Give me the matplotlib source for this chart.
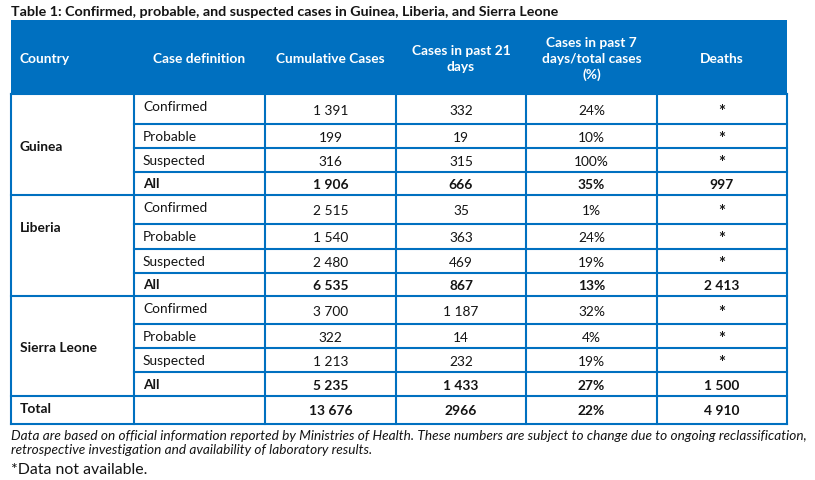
import matplotlib
matplotlib.use("Agg")
import matplotlib.pyplot as plt
from matplotlib.patches import Rectangle

# ---- data ----
title = "Table 1: Confirmed, probable, and suspected cases in Guinea, Liberia, and Sierra Leone"
headers = ["Country", "Case definition", "Cumulative Cases", "Cases in past 21\ndays",
           "Cases in past 7\ndays/total cases\n(%)", "Deaths"]
countries = ["Guinea", "Liberia", "Sierra Leone"]
case_defs = ["Confirmed", "Probable", "Suspected", "All"]
cumulative = [[1391, 199, 316, 1906], [2515, 1540, 2480, 6535], [3700, 322, 1213, 5235]]
past21 = [[332, 19, 315, 666], [35, 363, 469, 867], [1187, 14, 232, 1433]]
pct7 = [[24, 10, 100, 35], [1, 24, 19, 13], [32, 4, 19, 27]]
deaths = [[None, None, None, 997], [None, None, None, 2413], [None, None, None, 1500]]
total_label = "Total"
total_values = ["13 676", "2966", "22%", "4 910"]
footnote = ("Data are based on official information reported by Ministries of Health. These numbers are subject to change due to ongoing reclassification,\n"
            "retrospective investigation and availability of laboratory results.")
note2 = "*Data not available."

# ---- layout ----
W, H = 815, 481
col_x = [11, 134, 265, 396, 526, 657, 787]
row_y = [21, 95, 125, 149, 173, 196, 225, 250, 274, 297, 325, 349, 373, 397, 425]
country_label_y = [147, 228, 348]
BLUE = "#0070C0"
TXT = "#141414"
FONT = "Lato"
fs = 9.9
lw = 1.5

def fmt(n):
    if n is None:
        return "*"
    return f"{n:,}".replace(",", " ")

fig = plt.figure(figsize=(W / 100, H / 100), dpi=100)
ax = fig.add_axes([0, 0, 1, 1])
ax.set_xlim(0, W)
ax.set_ylim(H, 0)
ax.axis("off")

ax.text(11, 12, title, fontsize=10.3, fontweight="bold", family=FONT, color=TXT, va="center", ha="left")

# header
ax.add_patch(Rectangle((col_x[0], row_y[0]), col_x[-1] - col_x[0], row_y[1] - row_y[0],
                       facecolor=BLUE, edgecolor="none"))
hy = 59
for i, h in enumerate(headers):
    if i == 0:
        ax.text(20, hy, h, color="white", fontsize=fs, fontweight="bold", family=FONT,
                va="center", ha="left")
    else:
        cx = (col_x[i] + col_x[i + 1]) / 2
        ax.text(cx, hy, h, color="white", fontsize=fs, fontweight="bold", family=FONT,
                va="center", ha="center", linespacing=1.4)

# body lines
top_body = row_y[1]
bottom = row_y[-1]
for x in col_x:
    ax.plot([x, x], [top_body, bottom], color=BLUE, lw=lw, solid_capstyle="projecting")
for gi in range(len(countries)):
    for ri in range(len(case_defs)):
        k = 1 + gi * 4 + ri
        y0 = row_y[k]
        xstart = col_x[0] if ri == 0 else col_x[1]
        ax.plot([xstart, col_x[-1]], [y0, y0], color=BLUE, lw=lw, solid_capstyle="projecting")
ax.plot([col_x[0], col_x[-1]], [row_y[13], row_y[13]], color=BLUE, lw=lw, solid_capstyle="projecting")
ax.plot([col_x[0], col_x[-1]], [bottom, bottom], color=BLUE, lw=lw, solid_capstyle="projecting")

# body text
for gi, c in enumerate(countries):
    ax.text(20, country_label_y[gi], c, fontsize=fs, fontweight="bold", family=FONT,
            color=TXT, va="center", ha="left")
    for ri, d in enumerate(case_defs):
        k = 1 + gi * 4 + ri
        y0, y1 = row_y[k], row_y[k + 1]
        cy = (y0 + y1) / 2
        wt = "bold" if d == "All" else "normal"
        ly = y0 + 12 if ri == 0 else cy
        ax.text(143, ly, d, fontsize=fs, fontweight=wt, family=FONT, color=TXT,
                va="center", ha="left")
        vals = [fmt(cumulative[gi][ri]), fmt(past21[gi][ri]), f"{pct7[gi][ri]}%", fmt(deaths[gi][ri])]
        for j, v in enumerate(vals):
            cx = (col_x[2 + j] + col_x[3 + j]) / 2
            if v == "*":
                ax.text(cx, cy + 2, v, fontsize=12, fontweight="bold", family=FONT, color=TXT,
                        va="center", ha="center")
            else:
                ax.text(cx, cy + 1, v, fontsize=fs, fontweight=wt, family=FONT, color=TXT,
                        va="center", ha="center")

ty = (row_y[13] + row_y[14]) / 2
ax.text(20, ty - 2, total_label, fontsize=fs, fontweight="bold", family=FONT, color=TXT,
        va="center", ha="left")
for j, v in enumerate(total_values):
    cx = (col_x[2 + j] + col_x[3 + j]) / 2
    ax.text(cx, ty, v, fontsize=fs, fontweight="bold", family=FONT, color=TXT,
            va="center", ha="center")

ax.text(11, 443, footnote, fontsize=9.85, style="italic", family=FONT, color=TXT,
        va="center", ha="left", linespacing=1.25)
ax.text(11, 470, note2, fontsize=11.4, family=FONT, color=TXT, va="center", ha="left")

fig.savefig("out.png", dpi=100, facecolor="white")
